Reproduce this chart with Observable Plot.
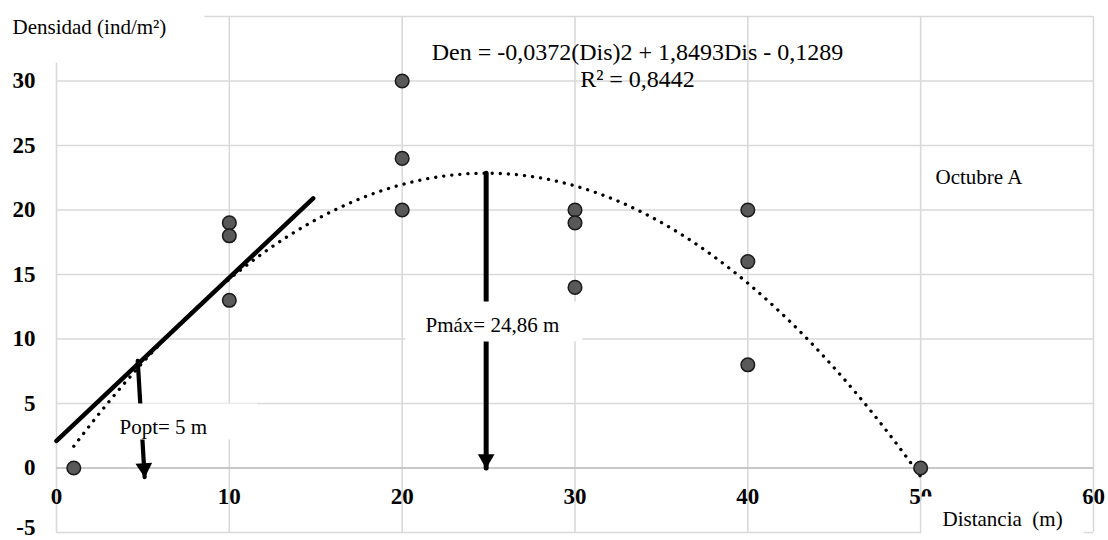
<!DOCTYPE html>
<html><head><meta charset="utf-8">
<script src="https://cdn.jsdelivr.net/npm/d3@7"></script>
<script src="https://cdn.jsdelivr.net/npm/@observablehq/plot@0.6"></script>
<style>html,body{margin:0;padding:0;background:#fff;} #chart{width:1108px;height:540px;overflow:hidden}</style>
</head><body><div id="chart"></div>
<script>
// ---- data ----
const distancia = [1, 10, 10, 10, 20, 20, 20, 30, 30, 30, 40, 40, 40, 50];
const densidad  = [0, 19, 18, 13, 30, 24, 20, 20, 19, 14, 20, 16, 8, 0];
const xTicks = [0, 10, 20, 30, 40, 50, 60];
const yTicks = [0, 5, 10, 15, 20, 25, 30];
const yTickBottom = [-5];
const yGrid  = [-5, 0, 5, 10, 15, 20, 25, 30, 35];
const coef = [-0.0372, 1.8493, -0.1289];      // Den = a·Dis² + b·Dis + c (printed fit)
const trendRange = [1, 50];
const tangenteX = [0, 14.85];
const tangenteY = [2.1, 20.9];
const poptX = [4.7, 5.1];
const poptY = [8.3, -0.7];
const pmax = 24.86;
const ecuacion = "Den = -0,0372(Dis)2 + 1,8493Dis - 0,1289";
const r2Text = "R² = 0,8442";
const serieLabel = "Octubre A";
const yTitle = "Densidad (ind/m²)";
const xTitle = "Distancia\u00a0 (m)";
const poptLabel = "Popt= 5 m";
const pmaxLabel = "Pmáx= 24,86 m";

// ---- tables built from the arrays ----
const puntos = distancia.map((d, i) => ({x: d, y: densidad[i]}));
const fit = x => coef[0] * x * x + coef[1] * x + coef[2];
const tendencia = d3.range(trendRange[0], trendRange[1] + 1e-9, 0.25).map(x => ({x, y: fit(x)}));
const tangente = tangenteX.map((x, i) => ({x, y: tangenteY[i]}));
const poptArrow = poptX.map((x, i) => ({x, y: poptY[i]}));
const pmaxArrow = [{x: pmax, y: fit(pmax)}, {x: pmax, y: 0}];

const ML = 56, MT = 16;
const font = "'Liberation Serif', 'Times New Roman', serif";
function label(text, absX, absY, opts = {}) {
  return Plot.text([text], {
    frameAnchor: "top-left", text: d => d,
    dx: absX - ML, dy: absY - MT,
    lineAnchor: "bottom", textAnchor: "start", fontSize: 21, fill: "black",
    fontFamily: font,
    ...opts
  });
}
const tickStyle = {fontWeight: "bold", fontSize: 23, fill: "black", fontFamily: font};

const chart = Plot.plot({
  width: 1108, height: 540,
  marginLeft: ML, marginRight: 15, marginTop: MT, marginBottom: 8,
  x: {domain: [0, 60], axis: null},
  y: {domain: [-5, 35], axis: null},
  style: {fontFamily: font, background: "white", color: "black"},
  marks: [
    Plot.ruleX(xTicks, {stroke: "#d9d9d9", strokeWidth: 1.6}),
    Plot.ruleY(yGrid, {stroke: "#d9d9d9", strokeWidth: 1.6}),
    Plot.ruleY([0], {stroke: "#bfbfbf", strokeWidth: 1.6}),
    Plot.line(tendencia, {x: "x", y: "y", stroke: "black", strokeWidth: 3.3,
      strokeDasharray: "0.1 8", strokeLinecap: "round"}),
    Plot.line(tangente, {x: "x", y: "y", stroke: "black", strokeWidth: 4.5}),
    Plot.line(poptArrow, {x: "x", y: "y", stroke: "black", strokeWidth: 4.2}),
    Plot.line(pmaxArrow, {x: "x", y: "y", stroke: "black", strokeWidth: 5}),
    Plot.dot([poptArrow[1]], {x: "x", y: "y", symbol: "triangle", r: 6.2, fill: "black",
      rotate: 176.5, dy: -9, dx: -0.5}),
    Plot.dot([pmaxArrow[1]], {x: "x", y: "y", symbol: "triangle", r: 6.2, fill: "black",
      rotate: 180, dy: -9}),
    Plot.dot(puntos, {x: "x", y: "y", r: 6.8, fill: "#595959", stroke: "#1a1a1a", strokeWidth: 1.5}),
    Plot.text(xTicks, {x: d => d, y: 0, text: d => String(d), dy: 28.5, ...tickStyle}),
    Plot.text(yTicks, {x: 0, y: d => d, text: d => String(d), dx: -21, textAnchor: "end", ...tickStyle}),
    Plot.text(yTickBottom, {x: 0, y: d => d, text: d => String(d), dx: -21, dy: -5, textAnchor: "end", ...tickStyle}),
    label(ecuacion, 637, 59, {textAnchor: "middle", fontSize: 24}),
    label(r2Text, 637, 86, {textAnchor: "middle", fontSize: 24}),
    label(serieLabel, 935, 183),
    label(yTitle, 12, 33, {ariaDescription: "densidad"}),
    label(pmaxLabel, 425, 331, {ariaDescription: "pmax"}),
    label(poptLabel, 119, 433, {ariaDescription: "popt"}),
    label(xTitle, 942, 525, {ariaDescription: "distancia"})
  ]
});
document.getElementById("chart").appendChild(chart);

// white label boxes behind boxed annotation texts (padding: left, right, top, bottom)
const boxes = {densidad: [12, 38, 14, 24], pmax: [20, 23, 11, 5], popt: [7, 50, 11, 1], distancia: [21, 21, 10, 20]};
document.querySelectorAll("#chart g[aria-description]").forEach(g => {
  const p = boxes[g.getAttribute("aria-description")];
  if (!p) return;
  g.querySelectorAll("text").forEach(t => {
    const b = t.getBBox();
    const r = document.createElementNS("http://www.w3.org/2000/svg", "rect");
    r.setAttribute("x", b.x - p[0]);
    r.setAttribute("y", b.y - p[2]);
    r.setAttribute("width", b.width + p[0] + p[1]);
    r.setAttribute("height", b.height + p[2] + p[3]);
    r.setAttribute("fill", "white");
    r.setAttribute("stroke", "none");
    const tr = t.getAttribute("transform");
    if (tr) r.setAttribute("transform", tr);
    g.insertBefore(r, t);
  });
});
</script>
</body></html>
